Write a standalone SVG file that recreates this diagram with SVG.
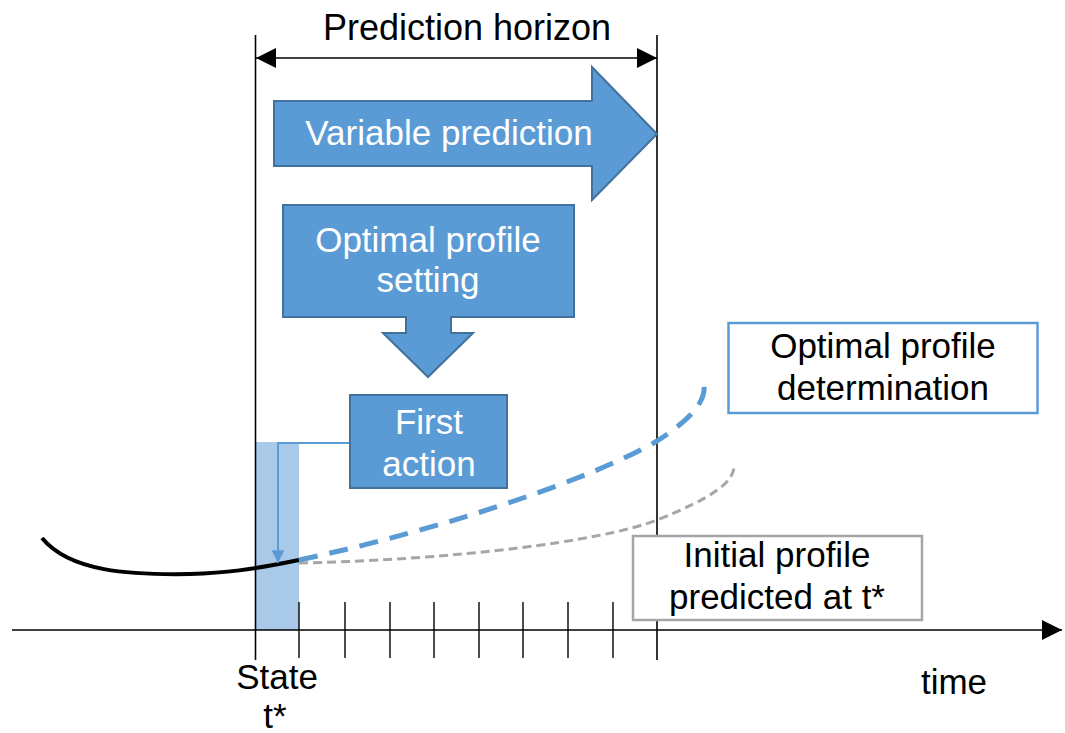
<svg xmlns="http://www.w3.org/2000/svg" width="1065" height="733" viewBox="0 0 1065 733">
  <defs>
    <style>
      text { font-family: "Liberation Sans", Arial, sans-serif; font-size: 35px; text-anchor: middle; }
      .wt { fill: #ffffff; }
      .bk { fill: #000000; }
      .shape { fill: #5b9bd5; stroke: #41719c; stroke-width: 2; }
      .axis { stroke: #000; stroke-width: 1.6; fill: none; }
      .tick { stroke: #000; stroke-width: 1.4; }
    </style>
    <marker id="blackHead" viewBox="0 0 20 20" refX="20" refY="10" markerWidth="20" markerHeight="20" markerUnits="userSpaceOnUse" orient="auto-start-reverse">
      <path d="M0,0 L20,10 L0,20 Z" fill="#000"/>
    </marker>
    <marker id="blueHead" viewBox="0 0 16 20" refX="16" refY="8" markerWidth="20" markerHeight="16" markerUnits="userSpaceOnUse" orient="auto">
      <path d="M0,0 L16,8 L0,16 Z" fill="#5b9bd5"/>
    </marker>
  </defs>

  <rect width="1065" height="733" fill="#ffffff"/>

  <!-- first-action interval -->
  <rect id="firstInterval" x="256" y="442" width="43" height="188" fill="#a9c9e8"/>

  <!-- time axis, horizon bounds and ticks -->
  <g id="axis">
    <line class="axis" x1="12" y1="630" x2="1062" y2="630" marker-end="url(#blackHead)"/>
    <line class="axis" x1="255.5" y1="35" x2="255.5" y2="660"/>
    <line class="axis" x1="657" y1="35" x2="657" y2="660"/>
    <g class="tick">
      <line x1="299" y1="602" x2="299" y2="658"/>
      <line x1="345" y1="602" x2="345" y2="658"/>
      <line x1="390" y1="602" x2="390" y2="658"/>
      <line x1="434" y1="602" x2="434" y2="658"/>
      <line x1="479" y1="602" x2="479" y2="658"/>
      <line x1="523" y1="602" x2="523" y2="658"/>
      <line x1="568" y1="602" x2="568" y2="658"/>
      <line x1="613" y1="602" x2="613" y2="658"/>
    </g>
    <text class="bk" x="277" y="689">State</text>
    <text class="bk" x="275" y="728">t*</text>
    <text class="bk" x="954" y="694">time</text>
  </g>

  <!-- horizon span -->
  <g id="horizon">
    <line class="axis" x1="256" y1="58" x2="657" y2="58" stroke-width="2" marker-start="url(#blackHead)" marker-end="url(#blackHead)"/>
    <text class="bk" x="467" y="40" style="font-size:36px">Prediction horizon</text>
  </g>

  <!-- profile curves -->
  <g id="connectors">
    <path d="M42,538 C70,572 130,575 190,574 C225,573 250,570 299,560" fill="none" stroke="#000" stroke-width="4"/>
    <path d="M299,563 C450,560 600,542 657,520 C712,498 735,482 734,465" fill="none" stroke="#a6a6a6" stroke-width="3" stroke-dasharray="9 5"/>
    <path d="M299,560 C450,528 600,475 657,441 C690,420 706,402 704,385" fill="none" stroke="#5b9bd5" stroke-width="5" stroke-dasharray="19 12"/>
    <path d="M350,443 L278,443 L278,563" fill="none" stroke="#5b9bd5" stroke-width="2" marker-end="url(#blueHead)"/>
  </g>

  <g id="variablePrediction">
    <path class="shape" d="M274,101 L592,101 L592,67 L657,134 L592,200 L592,166 L274,166 Z"/>
    <text class="wt" x="449" y="145">Variable prediction</text>
  </g>

  <g id="optimalSetting">
    <path class="shape" d="M283,205 L574,205 L574,317 L451,317 L451,333 L473,333 L428,377 L383,333 L406,333 L406,317 L283,317 Z"/>
    <text class="wt" x="428" y="252">Optimal profile</text>
    <text class="wt" x="428" y="292">setting</text>
  </g>

  <g id="firstAction">
    <rect class="shape" x="350" y="395" width="157" height="93"/>
    <text class="wt" x="429" y="434">First</text>
    <text class="wt" x="429" y="476">action</text>
  </g>

  <g id="optimalDetermination">
    <rect x="728.5" y="323" width="309" height="90" fill="#fff" stroke="#5b9bd5" stroke-width="2.5"/>
    <text class="bk" x="883" y="358">Optimal profile</text>
    <text class="bk" x="883" y="400">determination</text>
  </g>

  <g id="initialProfile">
    <rect x="633" y="536" width="289" height="84" fill="#fff" stroke="#a6a6a6" stroke-width="2.5"/>
    <text class="bk" x="777" y="567">Initial profile</text>
    <text class="bk" x="777" y="609">predicted at t*</text>
  </g>
</svg>
